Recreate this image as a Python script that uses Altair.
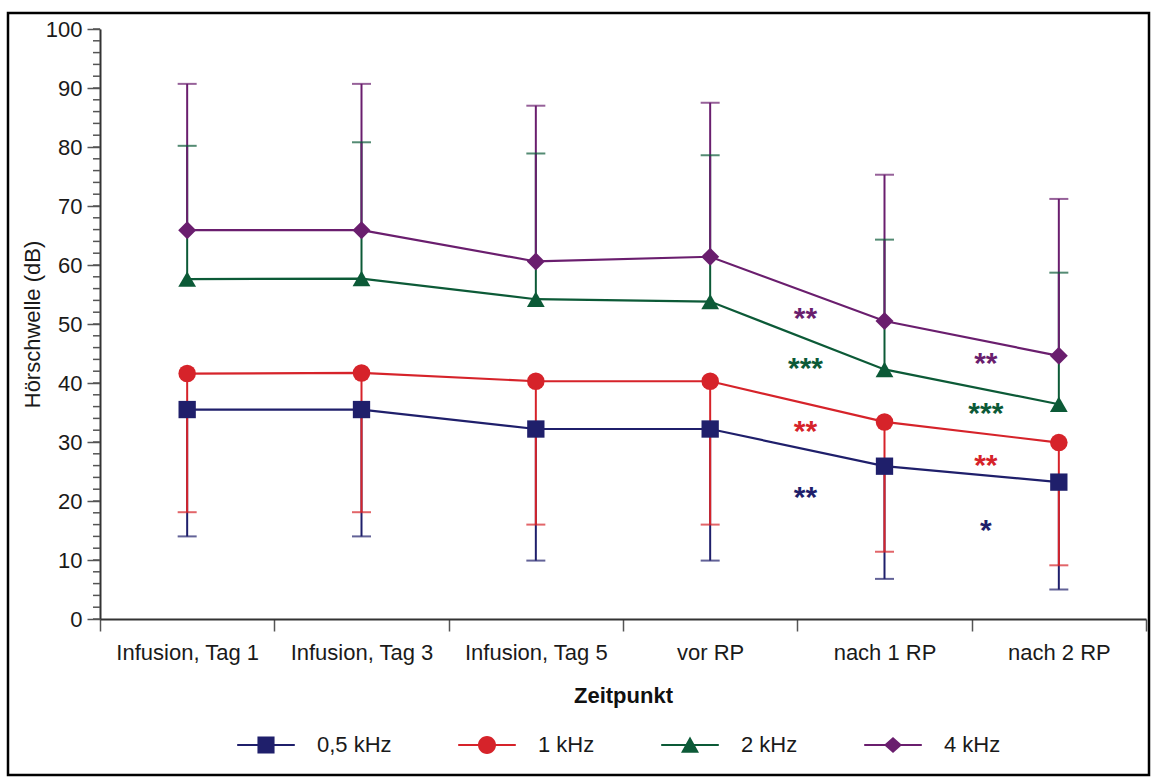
import altair as alt
import pandas as pd

categories = ["Infusion, Tag 1", "Infusion, Tag 3", "Infusion, Tag 5", "vor RP", "nach 1 RP", "nach 2 RP"]
series = ["0,5 kHz", "1 kHz", "2 kHz", "4 kHz"]
colors = ["#1f1f6b", "#d6232a", "#0c5a37", "#6a1e6e"]

# means and one-sided error bar ends (lower for 0,5/1 kHz, upper for 2/4 kHz)
mean_05 = [35.5, 35.5, 32.2, 32.2, 25.9, 23.2]
end_05 = [14.0, 14.0, 9.9, 9.9, 6.8, 5.0]
mean_1 = [41.6, 41.7, 40.3, 40.3, 33.4, 29.9]
end_1 = [18.1, 18.1, 16.0, 16.0, 11.4, 9.1]
mean_2 = [57.6, 57.7, 54.2, 53.8, 42.3, 36.4]
end_2 = [80.2, 80.8, 78.9, 78.6, 64.3, 58.7]
mean_4 = [65.9, 65.9, 60.6, 61.4, 50.5, 44.6]
end_4 = [90.7, 90.7, 87.0, 87.5, 75.3, 71.2]

# significance marks (placed before the category they refer to)
ast_text = ["**", "***", "**", "**", "**", "***", "**", "*"]
ast_series = ["4 kHz", "2 kHz", "1 kHz", "0,5 kHz", "4 kHz", "2 kHz", "1 kHz", "0,5 kHz"]
ast_cat = ["nach 1 RP"] * 4 + ["nach 2 RP"] * 4
ast_y = [51.5, 43.0, 32.3, 21.2, 43.9, 35.4, 26.6, 15.6]

minor_ticks = list(range(0, 101, 2))

point_shapes = ["square", "circle", "triangle-up", "diamond"]
point_sizes = [300, 324, 360, 330]
bar = "M-3.2,-0.11H3.2V0.11H-3.2Z "
legend_shapes = [
    bar + "M-0.95,-0.95H0.95V0.95H-0.95Z",
    bar + "M1,0A1,1 0 1,1 -1,0A1,1 0 1,1 1,0Z",
    bar + "M0,-0.95L1,0.85L-1,0.85Z",
    bar + "M0,-0.9L1,0L0,0.9L-1,0Z",
]

rows = []
for s, m, e in zip(series, [mean_05, mean_1, mean_2, mean_4], [end_05, end_1, end_2, end_4]):
    for c, mv, ev in zip(categories, m, e):
        rows.append({"cat": c, "series": s, "mean": mv, "end": ev})
df = pd.DataFrame(rows)

ast_df = pd.DataFrame({"cat": ast_cat, "series": ast_series, "ay": ast_y, "txt": ast_text})
minor_df = pd.DataFrame({"v": minor_ticks})

FONT = "Liberation Sans"
TXT = "#1a1a1a"


def X():
    return alt.X(
        "cat:N",
        sort=categories,
        scale=alt.Scale(type="band", domain=categories, paddingInner=0, paddingOuter=0),
        title="Zeitpunkt",
        axis=alt.Axis(
            tickBand="extent", labelAngle=0, labelFont=FONT, labelFontSize=22,
            labelColor=TXT, labelPadding=11, tickSize=12, tickColor="#555",
            tickWidth=1.5, domainColor="#333", domainWidth=2, grid=False,
            titleFont=FONT, titleFontSize=22, titleFontWeight="bold",
            titleColor="#111", titlePadding=22, labelLimit=0,
        ),
    )


def Y(field):
    return alt.Y(
        f"{field}:Q",
        scale=alt.Scale(domain=[0, 100], nice=False, zero=True),
        title="Hörschwelle (dB)",
        axis=alt.Axis(
            values=list(range(0, 101, 10)), tickSize=13, tickColor="#555",
            tickWidth=1.5, labelPadding=5, labelFont=FONT, labelFontSize=22,
            labelColor=TXT, domainColor="#333", domainWidth=2, grid=False,
            titleFont=FONT, titleFontSize=22, titleFontWeight="normal",
            titleColor=TXT, titlePadding=1,
        ),
    )


def C(legend=None):
    return alt.Color("series:N", scale=alt.Scale(domain=series, range=colors), legend=legend)


def L():
    return alt.Legend(
        orient="none", legendX=155, legendY=705, direction="horizontal", columns=4,
        title=None, labelFont=FONT, labelFontSize=22, labelColor=TXT,
        symbolSize=324, symbolStrokeWidth=0, labelOffset=40, columnPadding=66,
        padding=0,
    )


base = alt.Chart(df)

rules = base.mark_rule(strokeWidth=2).encode(x=X(), y=Y("mean"), y2="end:Q", color=C())
caps = base.mark_tick(orient="horizontal", size=19, thickness=2).encode(x=X(), y=Y("end"), color=C())
lines = base.mark_line(strokeWidth=2.2).encode(x=X(), y=Y("mean"), color=C())
points = base.mark_point(filled=True, opacity=1).encode(
    x=X(), y=Y("mean"), color=C(),
    shape=alt.Shape("series:N", scale=alt.Scale(domain=series, range=point_shapes), legend=None),
    size=alt.Size("series:N", scale=alt.Scale(domain=series, range=point_sizes), legend=None),
)

legend_layer = base.transform_filter("datum.mean < -1000").mark_point(
    filled=True, opacity=1, size=324
).encode(
    x=X(), y=Y("mean"),
    color=C(L()),
    shape=alt.Shape("series:N", scale=alt.Scale(domain=series, range=legend_shapes), legend=L()),
)

ast1 = alt.Chart(ast_df).transform_filter("datum.cat == 'nach 1 RP'").mark_text(
    font=FONT, fontSize=30, fontWeight="bold", baseline="alphabetic", dx=-79, dy=13
).encode(x=X(), y=Y("ay"), text="txt:N", color=C())
ast2 = alt.Chart(ast_df).transform_filter("datum.cat == 'nach 2 RP'").mark_text(
    font=FONT, fontSize=30, fontWeight="bold", baseline="alphabetic", dx=-73, dy=13
).encode(x=X(), y=Y("ay"), text="txt:N", color=C())

minor = alt.Chart(minor_df).mark_rule(color="#555", strokeWidth=1.5).encode(
    y=Y("v"), x=alt.value(-7), x2=alt.value(0)
)

frame = alt.Chart(alt.Data(values=[{"f": 1}])).mark_rect(
    fill="transparent", stroke="black", strokeWidth=2.5
).encode(x=alt.value(-92), x2=alt.value(1049), y=alt.value(-16), y2=alt.value(746))

chart = alt.layer(
    frame, minor, rules, caps, lines, points, legend_layer, ast1, ast2
).resolve_scale(
    color="independent", shape="independent", size="independent"
).properties(
    width=1046, height=590,
    autosize=alt.AutoSizeParams(type="none"),
    padding={"left": 100, "top": 29, "right": 8, "bottom": 159},
    background="white",
).configure_view(stroke=None)

chart.save("out.html", embed_options={"renderer": "svg", "actions": False})
